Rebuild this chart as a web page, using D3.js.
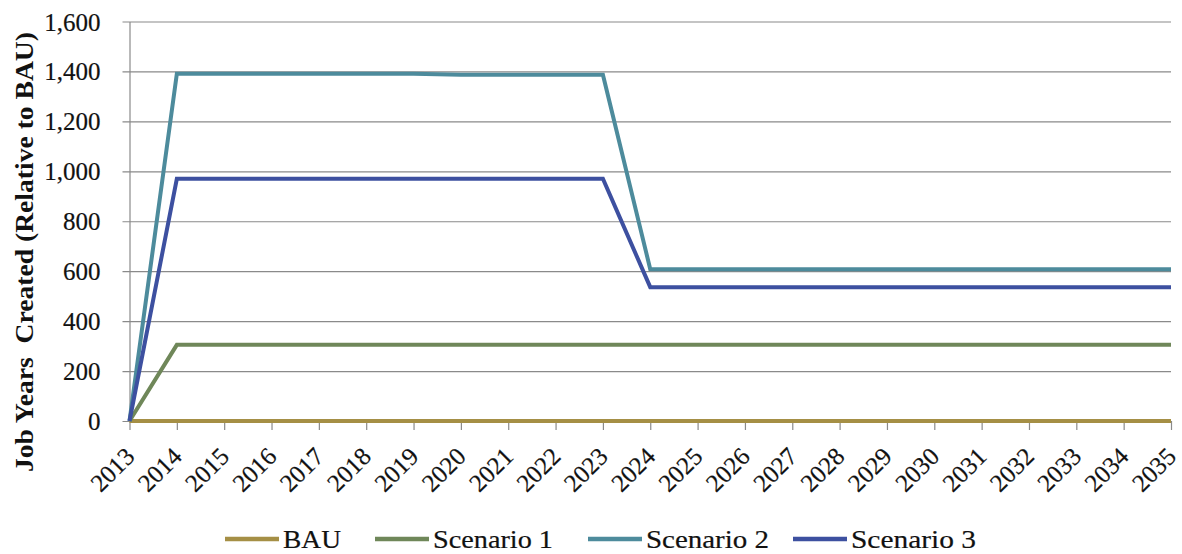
<!DOCTYPE html>
<html>
<head>
<meta charset="utf-8">
<script src="https://cdn.jsdelivr.net/npm/d3@7"></script>
<style>
  html, body { margin: 0; padding: 0; background: #ffffff; }
  svg { display: block; }
  text { font-family: "Liberation Serif", "Times New Roman", serif; fill: #111; stroke: #111; stroke-width: 0.2px; }
  text.axis-title { stroke-width: 0; }
</style>
</head>
<body>
<svg id="chart" width="1182" height="554"></svg>
<script>
// Job years created relative to BAU, by scenario, 2013-2035
const years = d3.range(2013, 2036);
const seriesNames = ["BAU", "Scenario 1", "Scenario 2", "Scenario 3"];
const seriesColors = ["#a58f45", "#6f8759", "#4d8b9c", "#3d50a0"];

const bauValues = [0, 0, 0, 0, 0, 0, 0, 0, 0, 0, 0, 0, 0, 0, 0, 0, 0, 0, 0, 0, 0, 0, 0];
const scenario1Values = [0, 305, 305, 305, 305, 305, 305, 305, 305, 305, 305, 305, 305, 305, 305, 305, 305, 305, 305, 305, 305, 305, 305];
const scenario2Values = [0, 1391, 1391, 1391, 1391, 1391, 1391, 1387, 1387, 1387, 1387, 608, 608, 608, 608, 608, 608, 608, 608, 608, 608, 608, 608];
const scenario3Values = [0, 970, 970, 970, 970, 970, 970, 970, 970, 970, 970, 536, 536, 536, 536, 536, 536, 536, 536, 536, 536, 536, 536];

const yTicks = [0, 200, 400, 600, 800, 1000, 1200, 1400, 1600];
const yTitle = "Job Years\u00a0 Created (Relative to BAU)";

const seriesValues = [bauValues, scenario1Values, scenario2Values, scenario3Values];

const svg = d3.select("#chart");
const margin = { left: 129.5, right: 1171, top: 21.5, bottom: 421 };

const x = d3.scaleLinear().domain([2013, 2035]).range([margin.left, margin.right]);
const y = d3.scaleLinear().domain([0, 1600]).range([margin.bottom, margin.top]);

const gridColor = "#8a8a8a";
const serif = "'Liberation Serif', 'Times New Roman', serif";

// horizontal gridlines with short ticks left of the axis
const yAxis = d3.axisLeft(y)
  .tickValues(yTicks)
  .tickSize(-(margin.right - margin.left))
  .tickSizeOuter(0)
  .tickFormat(d3.format(","));
const gy = svg.append("g")
  .attr("transform", `translate(${margin.left},0)`)
  .call(yAxis);
gy.attr("font-family", null).attr("font-size", null);
gy.select(".domain").attr("stroke", gridColor).attr("stroke-width", 1.2);
gy.selectAll(".tick line")
  .attr("stroke", gridColor)
  .attr("stroke-width", 1.2)
  .attr("x1", -7);
gy.selectAll(".tick text")
  .attr("x", -29)
  .attr("dy", "0.34em")
  .style("font-size", "25px")
  .style("font-family", serif)
  .attr("fill", "#111");

// x axis with tick marks below and rotated year labels
const xAxis = d3.axisBottom(x)
  .tickValues(years)
  .tickSize(9)
  .tickSizeOuter(0)
  .tickFormat(d3.format("d"));
const gx = svg.append("g")
  .attr("transform", `translate(0,${margin.bottom})`)
  .call(xAxis);
gx.attr("font-family", null).attr("font-size", null);
gx.select(".domain").attr("stroke", gridColor).attr("stroke-width", 1.2);
gx.selectAll(".tick line").attr("stroke", gridColor).attr("stroke-width", 1.2);
gx.selectAll(".tick text")
  .attr("y", 0)
  .attr("dy", 0)
  .attr("text-anchor", "end")
  .attr("transform", "translate(6,37) rotate(-45)")
  .style("font-size", "25px")
  .style("font-family", serif)
  .attr("fill", "#111");

// series lines
const line = d3.line()
  .x((d, i) => x(years[i]))
  .y(d => y(d));

svg.append("g")
  .selectAll("path")
  .data(seriesValues)
  .join("path")
  .attr("d", d => line(d))
  .attr("fill", "none")
  .attr("stroke", (d, i) => seriesColors[i])
  .attr("stroke-width", 4)
  .attr("stroke-linejoin", "miter");

// y-axis title
svg.append("text")
  .attr("class", "axis-title")
  .attr("transform", "translate(33,252) rotate(-90)")
  .attr("text-anchor", "middle")
  .attr("textLength", 440)
  .attr("lengthAdjust", "spacingAndGlyphs")
  .style("font-size", "26px")
  .style("font-weight", "bold")
  .text(yTitle);

// legend
const legendLineStart = [225, 375, 588, 793];
const legendTextWidth = [58, 120, 123, 125];
const legendY = 539;
const legend = svg.append("g");
seriesNames.forEach((name, i) => {
  legend.append("line")
    .attr("x1", legendLineStart[i])
    .attr("x2", legendLineStart[i] + 54)
    .attr("y1", legendY)
    .attr("y2", legendY)
    .attr("stroke", seriesColors[i])
    .attr("stroke-width", 4.5);
  legend.append("text")
    .attr("x", legendLineStart[i] + 58)
    .attr("y", legendY + 8.5)
    .attr("textLength", legendTextWidth[i])
    .attr("lengthAdjust", "spacingAndGlyphs")
    .style("font-size", "25px")
    .text(name);
});
</script>
</body>
</html>
